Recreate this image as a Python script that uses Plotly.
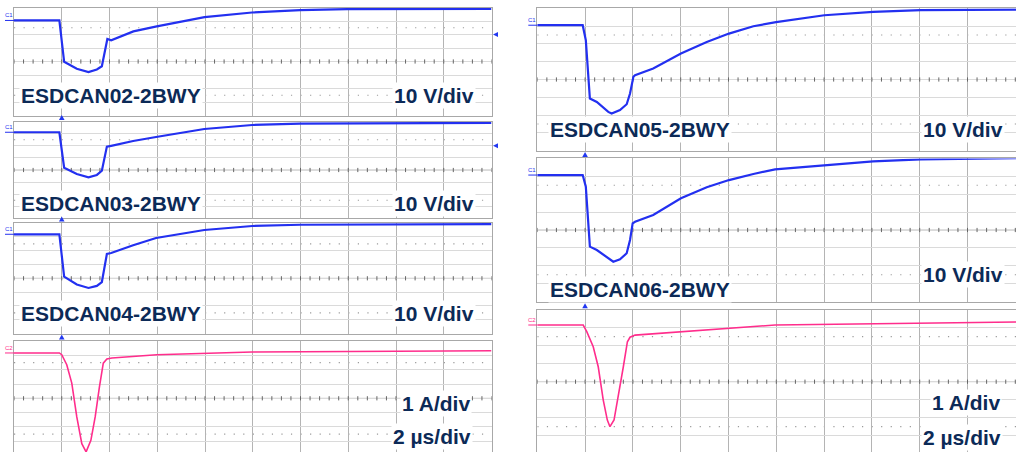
import numpy as np
import plotly.graph_objects as go

W, H = 1016, 452

# ---------------- data (time in µs, 2 µs/div, trigger at 0) ----------------
# ESDCAN02-2BWY voltage (V, 10 V/div, relative to screen centre)
t_can02 = [-2, -0.10, 0.10, 0.63, 1.12, 1.47, 1.68, 1.91, 2.07, 3.0, 3.98, 5.98, 7.97, 9.99, 11.95, 18.0]
v_can02 = [30.4, 30.4, -0.2, -5.4, -7.9, -5.9, -3.5, 16.7, 15.7, 22.3, 26.0, 32.9, 36.3, 38.0, 38.8, 39.0]

# ESDCAN03-2BWY voltage
t_can03 = [-2, -0.10, 0.10, 0.63, 1.12, 1.47, 1.68, 1.89, 2.07, 2.99, 3.95, 5.97, 7.98, 9.99, 18.0]
v_can03 = [31.2, 31.2, 1.9, -3.3, -6.0, -4.1, -0.6, 19.3, 20.0, 24.0, 27.3, 33.9, 37.2, 38.4, 38.9]

# ESDCAN04-2BWY voltage
t_can04 = [-2, -0.10, 0.10, 0.63, 1.12, 1.47, 1.68, 1.89, 2.07, 2.99, 3.95, 5.97, 7.98, 9.99, 18.0]
v_can04 = [31.9, 31.9, 1.2, -4.5, -7.0, -5.5, -2.7, 17.6, 18.3, 24.0, 29.2, 35.0, 37.9, 38.8, 39.2]

# Current for left column (A, 1 A/div)
t_i_left = [-2, -0.10, 0.0, 0.21, 0.42, 0.63, 0.84, 1.02, 1.22, 1.40, 1.58, 1.74, 1.89, 2.10, 3.98, 5.98, 7.97, 18.0]
i_left = [3.17, 3.17, 3.05, 2.35, 1.06, -1.30, -3.17, -3.75, -2.94, -1.30, 0.82, 2.46, 2.75, 2.82, 3.05, 3.17, 3.24, 3.33]

# ESDCAN05-2BWY voltage
t_can05 = [-2, -0.10, 0.03, 0.20, 0.49, 0.97, 1.11, 1.46, 1.74, 1.88, 2.02, 2.09, 2.85, 4.01, 5.09, 6.02,
           7.04, 7.99, 10.01, 12.05, 14.05, 16.06, 18.03]
v_can05 = [30.5, 30.5, 22.1, -10.7, -12.6, -18.2, -19.1, -17.2, -13.9, -7.9, 1.5, 2.4, 6.2, 14.6, 21.1, 25.8,
           29.9, 32.2, 36.1, 38.0, 39.0, 39.2, 39.2]

# ESDCAN06-2BWY voltage
t_can06 = [-2, -0.10, 0.03, 0.20, 0.49, 0.97, 1.18, 1.46, 1.74, 1.88, 1.99, 2.09, 2.85, 4.01, 5.09, 6.02,
           7.04, 7.95, 10.01, 12.05, 14.05, 16.06, 18.03]
v_can06 = [30.7, 30.7, 24.2, -9.3, -11.2, -15.8, -17.7, -16.4, -13.0, -5.6, 3.7, 4.6, 8.4, 17.7, 23.9, 27.9,
           31.3, 33.9, 36.3, 38.3, 39.4, 40.0, 40.2]

# Current for right column (A, 1 A/div)
t_i_right = [-2, -0.08, 0.07, 0.21, 0.34, 0.55, 0.76, 0.93, 1.04, 1.21, 1.39, 1.60, 1.77, 1.88, 2.09, 4.01, 6.02, 7.95, 18.03]
i_right = [3.15, 3.15, 2.78, 2.32, 1.94, 0.83, -1.02, -2.13, -2.5, -2.13, -0.83, 0.83, 2.22, 2.47, 2.59, 2.78, 2.97, 3.15, 3.32]

device_labels = ["ESDCAN02-2BWY", "ESDCAN03-2BWY", "ESDCAN04-2BWY", "ESDCAN05-2BWY", "ESDCAN06-2BWY"]
volt_label = "10 V/div"
amp_label = "1 A/div"
time_label = "2 µs/div"

# ---------------- styling / geometry ----------------
BLUE = "#2330f0"
PINK = "#ff2d8c"
NAVY = "#0c2a57"
FONT = "Liberation Sans, Arial, sans-serif"

LX0, LX1, LXMAX = 14, 491.5, 18.0
RX0, RX1, RXMAX = 537.3, 1016, -2 + (1016 - 537.3) / 47.8 * 2

panels = [
    dict(t=t_can02, v=v_can02, scale=10, color=BLUE, x0=LX0, x1=LX1, xmax=LXMAX, c=61.5, sp=13.5, ch="C1", trig=False, arrow=True),
    dict(t=t_can03, v=v_can03, scale=10, color=BLUE, x0=LX0, x1=LX1, xmax=LXMAX, c=170.0, sp=12.1, ch="C1", trig=True, arrow=True),
    dict(t=t_can04, v=v_can04, scale=10, color=BLUE, x0=LX0, x1=LX1, xmax=LXMAX, c=278.3, sp=13.8, ch="C1", trig=True, arrow=False),
    dict(t=t_i_left, v=i_left, scale=1, color=PINK, x0=LX0, x1=LX1, xmax=LXMAX, c=398.3, sp=14.3, ch="C2", trig=True, arrow=False),
    dict(t=t_can05, v=v_can05, scale=10, color=BLUE, x0=RX0, x1=RX1, xmax=RXMAX, c=79.5, sp=17.8, ch="C1", trig=False, arrow=False),
    dict(t=t_can06, v=v_can06, scale=10, color=BLUE, x0=RX0, x1=RX1, xmax=RXMAX, c=230.0, sp=17.9, ch="C1", trig=True, arrow=False),
    dict(t=t_i_right, v=i_right, scale=1, color=PINK, x0=RX0, x1=RX1, xmax=RXMAX, c=381.7, sp=18.0, ch="C2", trig=True, arrow=False),
]

fig = go.Figure()
layout = dict(width=W, height=H, margin=dict(l=0, r=0, t=0, b=0), paper_bgcolor="white",
              plot_bgcolor="white", showlegend=False)
shapes = []
annotations = []

def px(x):
    return x / W

def py(y):
    return 1 - y / H

for i, p in enumerate(panels, start=1):
    xa = "x" if i == 1 else f"x{i}"
    ya = "y" if i == 1 else f"y{i}"
    top = p["c"] - 4 * p["sp"]
    bot = min(p["c"] + 4 * p["sp"], H)
    s = p["scale"]
    ymin = -(bot - p["c"]) / p["sp"] * s
    ymax = 4 * s
    layout["xaxis" if i == 1 else f"xaxis{i}"] = dict(
        domain=[px(p["x0"]), px(p["x1"])], range=[-2, p["xmax"]], anchor=ya,
        showticklabels=False, ticks="", tick0=0, dtick=2, showgrid=True,
        gridcolor="#b4b4b4", gridwidth=1, zeroline=False, showline=True,
        mirror=True, linecolor="#a8a8a8", linewidth=1, fixedrange=True)
    layout["yaxis" if i == 1 else f"yaxis{i}"] = dict(
        domain=[py(bot), py(top)], range=[ymin, ymax], anchor=xa,
        showticklabels=False, ticks="", tick0=0, dtick=s, showgrid=True,
        gridcolor="#dadada", gridwidth=1, zeroline=False, showline=True,
        mirror=True, linecolor="#a8a8a8", linewidth=1, fixedrange=True)

    # dotted lines at +/-2.5 div
    for yy in (2.5 * s, -2.5 * s):
        shapes.append(dict(type="line", xref=xa, yref=ya, x0=-2, x1=p["xmax"], y0=yy, y1=yy,
                           line=dict(color="#9a9a9a", width=1.2, dash="1.2px,8.35px"), layer="below"))
    # centre line
    shapes.append(dict(type="line", xref=xa, yref=ya, x0=-2, x1=p["xmax"], y0=0, y1=0,
                       line=dict(color="#bdbdbd", width=1), layer="below"))
    minor = np.arange(-2, p["xmax"] + 1e-6, 0.4)
    fig.add_trace(go.Scatter(x=minor, y=np.zeros_like(minor), xaxis=xa, yaxis=ya, mode="markers",
                             marker=dict(symbol="line-ns", size=3, line=dict(width=1, color="#666666")),
                             hoverinfo="skip"))

    # waveform
    fig.add_trace(go.Scatter(x=p["t"], y=p["v"], xaxis=xa, yaxis=ya, mode="lines",
                             line=dict(color=p["color"], width=2.2 if p["color"] == BLUE else 1.6),
                             hoverinfo="skip"))

    # channel label at left
    shapes.append(dict(type="line", xref="paper", yref=ya, x0=px(p["x0"] - 9), x1=px(p["x0"]),
                       y0=p["v"][0], y1=p["v"][0], line=dict(color=p["color"], width=1)))
    annotations.append(dict(text=p["ch"], xref="paper", yref=ya, x=px(p["x0"] - 5), y=p["v"][0],
                            xanchor="center", yanchor="bottom", showarrow=False,
                            font=dict(size=6, color=p["color"], family=FONT), yshift=0))

    # trigger marker above panel
    if p["trig"]:
        tx = p["x0"] + 47.75
        ty = top - 1.5
        shapes.append(dict(type="path", xref="paper", yref="paper",
                           path=f"M {px(tx-2.8)},{py(ty)} L {px(tx+2.8)},{py(ty)} L {px(tx)},{py(ty-5)} Z",
                           fillcolor="#2238f0", line=dict(width=0)))
    # right-side offset arrow
    if p["arrow"]:
        ay = p["c"] - 2 * p["sp"]
        ax = p["x1"] + 1.5
        shapes.append(dict(type="path", xref="paper", yref="paper",
                           path=f"M {px(ax)},{py(ay)} L {px(ax+5)},{py(ay-2.5)} L {px(ax+5)},{py(ay+2.5)} Z",
                           fillcolor="#2238f0", line=dict(width=0)))

# text labels
def label(text, x, y, anchor):
    annotations.append(dict(text=f"<b>{text}</b>", xref="paper", yref="paper", x=px(x), y=py(y),
                            xanchor=anchor, yanchor="middle", showarrow=False, bgcolor="white",
                            borderpad=1, font=dict(size=21, color=NAVY, family=FONT)))

label(device_labels[0], 19, 95, "left")
label(volt_label, 476, 95, "right")
label(device_labels[1], 19, 203, "left")
label(volt_label, 476, 203, "right")
label(device_labels[2], 19, 313, "left")
label(volt_label, 476, 313, "right")
label(amp_label, 472, 403, "right")
label(time_label, 473, 436, "right")
label(device_labels[3], 548, 129, "left")
label(volt_label, 1005, 129, "right")
label(volt_label, 1005, 274, "right")
label(device_labels[4], 548, 289, "left")
label(amp_label, 1002, 402, "right")
label(time_label, 1003, 437, "right")

layout["shapes"] = shapes
layout["annotations"] = annotations
fig.update_layout(**layout)
fig.write_html("out.html", config={"displayModeBar": False, "staticPlot": True},
               post_script="document.body.style.margin='0px';document.body.style.overflow='hidden';")
